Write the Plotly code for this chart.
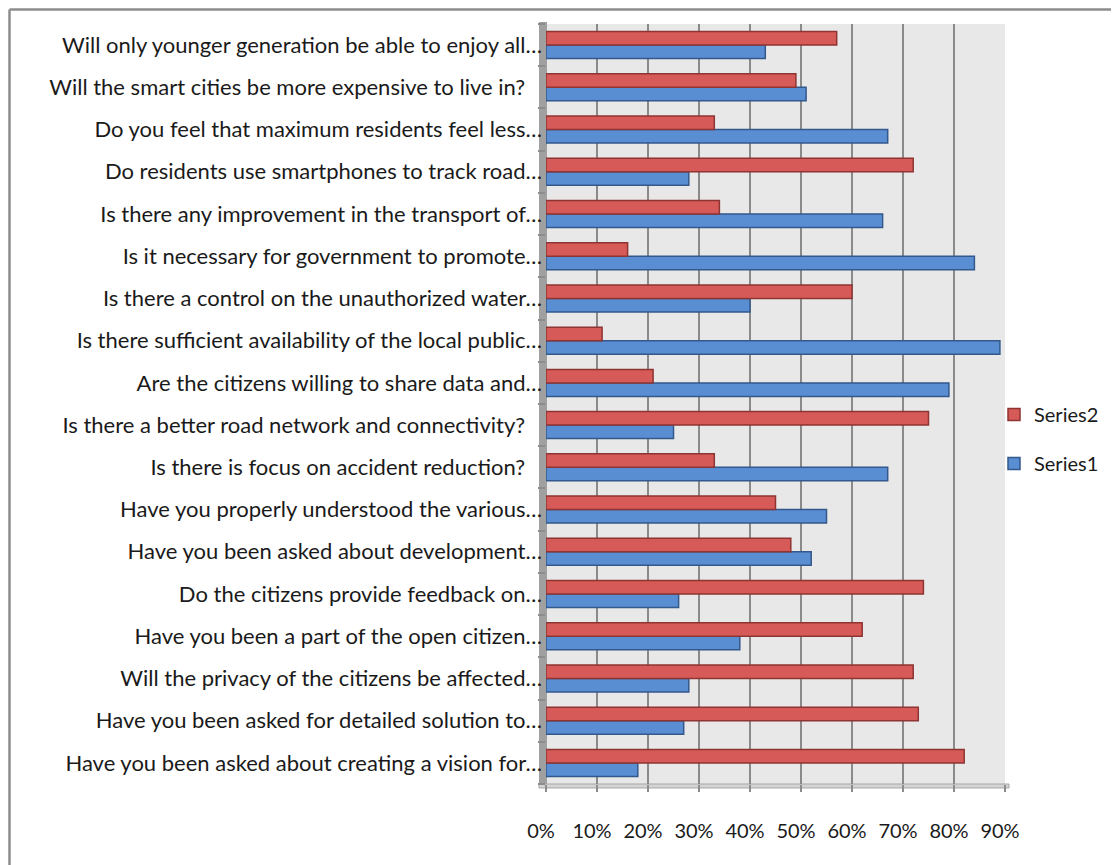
import plotly.graph_objects as go

# Categories listed bottom-to-top (Excel order)
categories = [
    "Have you been asked about creating a vision for…",
    "Have you been asked for detailed solution to…",
    "Will the privacy of the citizens be affected…",
    "Have you been a part of the open citizen…",
    "Do the citizens provide feedback on…",
    "Have you been asked about development…",
    "Have you properly understood the various…",
    "Is there is focus on accident reduction?\u00a0\u00a0\u00a0",
    "Is there a better road network and connectivity?\u00a0\u00a0\u00a0",
    "Are the citizens willing to share data and…",
    "Is there sufficient availability of the local public…",
    "Is there a control on the unauthorized water…",
    "Is it necessary for government to promote…",
    "Is there any improvement in the transport of…",
    "Do residents use smartphones to track road…",
    "Do you feel that maximum residents feel less…",
    "Will the smart cities be more expensive to live in?\u00a0\u00a0\u00a0",
    "Will only younger generation be able to enjoy all…",
]
series1 = [18, 27, 28, 38, 26, 52, 55, 67, 25, 79, 89, 40, 84, 66, 28, 67, 51, 43]
series2 = [82, 73, 72, 62, 74, 48, 45, 33, 75, 21, 11, 60, 16, 34, 72, 33, 49, 57]
tick_vals = [0, 10, 20, 30, 40, 50, 60, 70, 80, 90]
tick_text = ["0%", "10%", "20%", "30%", "40%", "50%", "60%", "70%", "80%", "90%"]

# page has an 8px body margin; target page pixel coordinates below
OFF = 8
W, H = 1119 - OFF, 865 - OFF
L, R, T, B = 546, 1005, 24, 784
pw, ph = R - L, B - T


def px(x):
    return (x - L) / pw


def py(y):
    return 1 - (y - T) / ph


FONT = "Lato, 'Open Sans', sans-serif"

fig = go.Figure()
fig.add_trace(go.Bar(
    y=categories, x=series1, orientation="h", name="Series1",
    legendgroup="s1", legendrank=2,
    marker=dict(color="#5A8ED3", line=dict(color="#33588C", width=1.5)),
))
fig.add_trace(go.Bar(
    y=categories, x=series2, orientation="h", name="Series2",
    legendgroup="s2", legendrank=1,
    marker=dict(color="#D65A57", line=dict(color="#8E3533", width=1.5)),
))

shapes = [
    # outer chart border (left and top visible)
    dict(type="line", xref="paper", yref="paper", x0=px(9.5), x1=px(9.5), y0=py(9.5), y1=py(900),
         line=dict(color="#8C8C8C", width=2.5)),
    dict(type="line", xref="paper", yref="paper", x0=px(9.5), x1=px(1125), y0=py(9.5), y1=py(9.5),
         line=dict(color="#8C8C8C", width=2.5)),
    # side wall
    dict(type="rect", xref="paper", yref="paper", x0=px(539), x1=px(547), y0=py(787), y1=py(22),
         fillcolor="#A0A0A0", line=dict(width=0), layer="below"),
    # floor
    dict(type="rect", xref="paper", yref="paper", x0=px(539), x1=px(1009), y0=py(788), y1=py(784),
         fillcolor="#D4D4D4", line=dict(color="#A6A6A6", width=1), layer="below"),
]

fig.update_layout(
    width=W, height=H, autosize=False,
    margin=dict(l=L - OFF, r=W - (R - OFF), t=T - OFF, b=H - (B - OFF), pad=0),
    paper_bgcolor="white",
    plot_bgcolor="#E8E8E8",
    barmode="group",
    bargap=0.36,
    bargroupgap=0.0,
    font=dict(family=FONT, size=21, color="#1A1A1A"),
    shapes=shapes,
    showlegend=True,
    legend=dict(
        x=px(994), y=py(439), xanchor="left", yanchor="middle",
        traceorder="grouped", tracegroupgap=20,
        font=dict(family=FONT, size=20, color="#1A1A1A"),
        bgcolor="rgba(0,0,0,0)",
    ),
    xaxis=dict(
        range=[0, 90], tickvals=tick_vals, ticktext=tick_text,
        showgrid=True, gridcolor="#8A8A8A", gridwidth=2,
        zeroline=False, showline=False,
        ticks="outside", ticklen=7, tickwidth=2, tickcolor="#8C8C8C",
        ticklabelstandoff=22, ticklabelshift=-5,
        tickfont=dict(family=FONT, size=20, color="#1A1A1A"),
        fixedrange=True,
    ),
    yaxis=dict(
        type="category", categoryorder="array", categoryarray=categories,
        tickson="boundaries", ticks="outside", ticklen=7, tickwidth=2, tickcolor="#8C8C8C",
        showgrid=False, showline=False, zeroline=False,
        ticklabelstandoff=3,
        tickfont=dict(family=FONT, size=22, color="#1A1A1A"),
        fixedrange=True,
    ),
)

fig.write_html("out.html")
